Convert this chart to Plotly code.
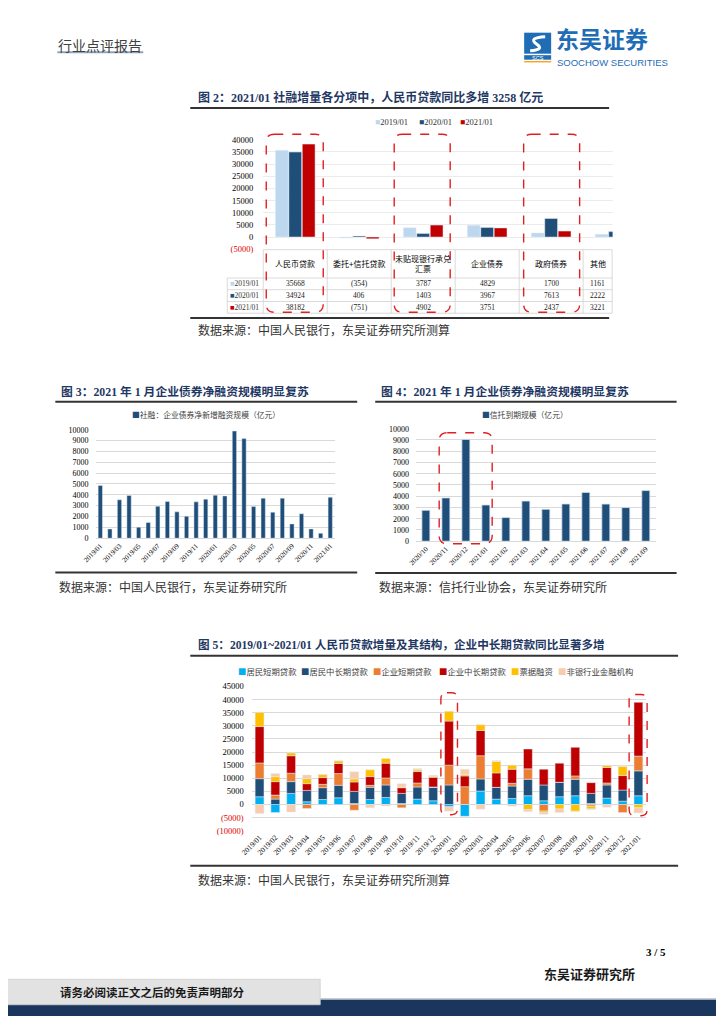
import plotly.graph_objects as go

# Figure size (window minus the browser's default 8px body margin) and an
# empirical page-pixel calibration measured from the previous render.
PAGE_W, PAGE_H = 724, 1024
MARGIN = 8
W, H = PAGE_W - 2 * MARGIN, PAGE_H - 2 * MARGIN
CAL_AX, CAL_BX = 12.8, 0.982
CAL_AY, CAL_BY = 5.4, 0.990
SERIF = "Liberation Serif, Noto Sans CJK SC"
SANS = "Noto Sans CJK SC, Liberation Sans"
NAVY = "#1F3864"

# ---------------- Figure 2 data ----------------
f2_categories = ["人民币贷款", "委托+信托贷款", "未贴现银行承兑汇票", "企业债券", "政府债券", "其他"]
f2_header_labels = ["人民币贷款", "委托+信托贷款", "未贴现银行承兑<br>汇票", "企业债券", "政府债券", "其他"]
f2_series_names = ["2019/01", "2020/01", "2021/01"]
f2_2019 = [35668, -354, 3787, 4829, 1700, 1161]
f2_2020 = [34924, 406, 1403, 3967, 7613, 2222]
f2_2021 = [38182, -751, 4902, 3751, 2437, 3221]
f2_yticks = [-5000, 0, 5000, 10000, 15000, 20000, 25000, 30000, 35000, 40000]
f2_yticklabels = ["<span style='color:#E00000'>(5000)</span>", "0", "5000", "10000", "15000",
                  "20000", "25000", "30000", "35000", "40000"]

# ---------------- Figure 3 data ----------------
f3_months = ["2019/01", "2019/02", "2019/03", "2019/04", "2019/05", "2019/06", "2019/07", "2019/08",
             "2019/09", "2019/10", "2019/11", "2019/12", "2020/01", "2020/02", "2020/03", "2020/04",
             "2020/05", "2020/06", "2020/07", "2020/08", "2020/09", "2020/10", "2020/11", "2020/12",
             "2021/01"]
f3_ticklabels = ["2019/01", "2019/03", "2019/05", "2019/07", "2019/09", "2019/11", "2020/01",
                 "2020/03", "2020/05", "2020/07", "2020/09", "2020/11", "2021/01"]
f3_name = "社融：企业债券净新增融资规模（亿元）"
f3_values = [4850, 860, 3540, 3940, 1020, 1450, 2950, 3380, 2430, 2030, 3350, 3600, 3970,
             3900, 9880, 9180, 2920, 3690, 2400, 3690, 1320, 2250, 860, 460, 3780]

# ---------------- Figure 4 data ----------------
f4_months = ["2020/10", "2020/11", "2020/12", "2021/01", "2021/02", "2021/03", "2021/04",
             "2021/05", "2021/06", "2021/07", "2021/08", "2021/09"]
f4_name = "信托到期规模（亿元）"
f4_values = [2750, 3850, 9050, 3220, 2100, 3570, 2840, 3310, 4340, 3300, 2990, 4500]

# ---------------- Figure 5 data ----------------
f5_months = f3_months
f5_names = ["居民短期贷款", "居民中长期贷款", "企业短期贷款", "企业中长期贷款", "票据融资", "非银行业金融机构"]
f5_house_short = [2950, -3080, 4230, 1030, 1920, 2560, 380, 1920, 2690, 380, 2050, 1410, -900,
                  -4490, 5130, 2050, 2310, 3330, 1410, 2950, 3330, 380, 2440, 1280, 3330]
f5_house_long = [6900, 2050, 4490, 4350, 4490, 4750, 4620, 4620, 4750, 3850, 4620, 5130, 7440,
                 0, 4610, 4490, 4740, 6290, 6030, 5510, 6290, 3850, 5000, 4230, 9490]
f5_corp_short = [6000, 1540, 3200, -1540, 1280, 4480, -2180, 770, 2690, -1280, 1540, 130, 7560,
                 6800, 8850, 0, 1030, 3970, -2500, 0, 1280, -640, 770, -3080, 5640]
f5_corp_long = [13850, 5130, 6670, 2570, 2570, 3850, 3590, 3330, 5640, 2180, 4350, 3710, 16790,
                4100, 9620, 5510, 5380, 7560, 6020, 7310, 10890, 4100, 5890, 5520, 20510]
f5_bills = [5400, 1920, 1030, 1920, 1150, 1030, 1150, 2570, 1790, 260, 650, 390, 3720,
            510, 2170, 4360, 1540, -1920, -650, -1670, -2560, -1030, 770, 3460, -1280]
f5_nonbank = [-3460, 1150, -2820, 1410, 200, 0, 2700, -1280, -600, 1280, 510, 380, -1660,
              2050, -1800, 380, -640, -770, -600, -1410, -200, -250, -1030, 380, -1930]
f5_yticks = [-10000, -5000, 0, 5000, 10000, 15000, 20000, 25000, 30000, 35000, 40000, 45000]
f5_yticklabels = ["<span style='color:#E00000'>(10000)</span>", "<span style='color:#E00000'>(5000)</span>",
                  "0", "5000", "10000", "15000", "20000", "25000", "30000", "35000", "40000", "45000"]


def X(p):
    q = (p - CAL_AX) / CAL_BX
    return (q - MARGIN) / W


def Y(p):
    q = (p - CAL_AY) / CAL_BY
    return 1 - (q - MARGIN) / H


fig = go.Figure()

# ---- Figure 2 bars ----
f2_colors = ["#BDD7EE", "#1F4E79", "#C00000"]
f2_offsets = [-0.31, -0.1, 0.11]
for i, (name, vals) in enumerate(zip(f2_series_names, [f2_2019, f2_2020, f2_2021])):
    fig.add_trace(go.Bar(x=f2_categories, y=vals, name=name, marker_color=f2_colors[i],
                         width=0.2, offset=f2_offsets[i], offsetgroup="g%d" % i,
                         xaxis="x", yaxis="y", showlegend=False))

# ---- Figure 3 bars ----
fig.add_trace(go.Bar(x=f3_months, y=f3_values, name=f3_name, marker_color="#1F4E79",
                     width=0.45, xaxis="x2", yaxis="y2", showlegend=False))

# ---- Figure 4 bars ----
fig.add_trace(go.Bar(x=f4_months, y=f4_values, name=f4_name, marker_color="#1F4E79",
                     marker_line=dict(color="#D6E2F0", width=0.8),
                     width=0.4, xaxis="x3", yaxis="y3", showlegend=False))

# ---- Figure 5 stacked bars ----
f5_colors = ["#00B0F0", "#1F4E79", "#ED7D31", "#C00000", "#FFC000", "#F8CBAD"]
for name, vals, col in zip(f5_names, [f5_house_short, f5_house_long, f5_corp_short,
                                      f5_corp_long, f5_bills, f5_nonbank], f5_colors):
    fig.add_trace(go.Bar(x=f5_months, y=vals, name=name, marker_color=col, width=0.56,
                         offsetgroup="f5", xaxis="x4", yaxis="y4", showlegend=False))

grid = "#D9D9D9"
tickfont = dict(family=SERIF, size=8.5, color="#000000")
fig.update_layout(
    width=W, height=H, margin=dict(l=0, r=0, t=0, b=0),
    paper_bgcolor="white", plot_bgcolor="white", barmode="relative",
    font=dict(family=SERIF, color="#000000"),
    xaxis=dict(domain=[X(263), X(647)], anchor="y", type="category", range=[-0.5, 5.5],
               showticklabels=False, showgrid=False, zeroline=False, fixedrange=True),
    yaxis=dict(domain=[Y(249.5), Y(140)], anchor="x", range=[-5000, 40000],
               tickvals=f2_yticks, ticktext=f2_yticklabels, tickfont=tickfont,
               ticklabelstandoff=9, gridcolor="#EBEBEB", gridwidth=0.7,
               zeroline=False, showline=False),
    xaxis2=dict(domain=[X(95.2), X(334.8)], anchor="y2", type="category", range=[-0.5, 24.5],
                tickvals=f3_ticklabels, ticktext=f3_ticklabels, tickangle=-45,
                tickfont=dict(family=SERIF, size=7, color="#000"), showgrid=False,
                showline=True, linecolor=grid, linewidth=0.8, ticks=""),
    yaxis2=dict(domain=[Y(538.5), Y(430)], anchor="x2", range=[0, 10000], dtick=1000,
                tickformat="d",
                tickfont=dict(family=SERIF, size=8, color="#000"), ticklabelstandoff=6,
                gridcolor=grid, gridwidth=0.7, zeroline=False, showline=False),
    xaxis3=dict(domain=[X(415.7), X(655.7)], anchor="y3", type="category", range=[-0.5, 11.5],
                tickangle=-45, tickfont=dict(family=SERIF, size=7, color="#000"), showgrid=False,
                showline=True, linecolor=grid, linewidth=0.8, ticks=""),
    yaxis3=dict(domain=[Y(541.5), Y(429)], anchor="x3", range=[0, 10000], dtick=1000,
                tickformat="d",
                tickfont=dict(family=SERIF, size=8, color="#000"), ticklabelstandoff=6,
                gridcolor=grid, gridwidth=0.7, zeroline=False, showline=False),
    xaxis4=dict(domain=[X(251.4), X(646.2)], anchor="y4", type="category", range=[-0.5, 24.5],
                tickangle=-45, tickfont=dict(family=SERIF, size=7.5, color="#000"), showgrid=False,
                showline=False, ticks=""),
    yaxis4=dict(domain=[Y(831), Y(686.7)], anchor="x4", range=[-10000, 45000],
                tickvals=f5_yticks, ticktext=f5_yticklabels,
                tickfont=dict(family=SERIF, size=8.5, color="#000"), ticklabelstandoff=7,
                gridcolor=grid, gridwidth=0.7, zeroline=False, showline=False),
)

shapes = []
annos = []


def line(x0, y0, x1, y1, color="#333333", width=1.0, dash=None):
    d = dict(type="line", xref="paper", yref="paper", x0=X(x0), y0=Y(y0), x1=X(x1), y1=Y(y1),
             line=dict(color=color, width=width), layer="above")
    if dash:
        d["line"]["dash"] = dash
    shapes.append(d)


def rect(x0, y0, x1, y1, fill, lcolor=None, lwidth=0):
    shapes.append(dict(type="rect", xref="paper", yref="paper", x0=X(x0), y0=Y(y1), x1=X(x1), y1=Y(y0),
                       fillcolor=fill, line=dict(color=lcolor or fill, width=lwidth), layer="above"))


def rrect(x0, y0, x1, y1, r=8, color="#E02020"):
    def P(x, y):
        return "%.5f,%.5f" % (X(x), Y(y))
    path = ("M %s L %s Q %s %s L %s Q %s %s L %s Q %s %s L %s Q %s %s Z" % (
        P(x0 + r, y0), P(x1 - r, y0), P(x1, y0), P(x1, y0 + r), P(x1, y1 - r),
        P(x1, y1), P(x1 - r, y1), P(x0 + r, y1), P(x0, y1), P(x0, y1 - r),
        P(x0, y0 + r), P(x0, y0), P(x0 + r, y0)))
    shapes.append(dict(type="path", xref="paper", yref="paper", path=path,
                       line=dict(color=color, width=1.4, dash="dash"), layer="above"))


def text(x, y, s, size=10, family=SANS, color="#000000", xanchor="left", yanchor="middle"):
    annos.append(dict(x=X(x), y=Y(y), xref="paper", yref="paper", text=s, showarrow=False,
                      xanchor=xanchor, yanchor=yanchor, align="center", borderpad=0,
                      font=dict(family=family, size=size, color=color)))


def sq(color):
    return "<span style='color:%s'>■</span>" % color


# ---------------- Header ----------------
text(57, 45, "行业点评报告", size=14, color="#404040")
line(57, 52.5, 143, 52.5, color="#8EA3BF", width=2)
# logo
rect(524, 33, 551, 54, "#1F6DB5")
shapes.append(dict(type="path", xref="paper", yref="paper",
                   path="M %.5f,%.5f Q %.5f,%.5f %.5f,%.5f Q %.5f,%.5f %.5f,%.5f" % (
                       X(545), Y(37), X(528), Y(38), X(536), Y(44), X(545), Y(50), X(530), Y(51)),
                   line=dict(color="white", width=3), layer="above"))
rect(524, 55.5, 551, 60, "#1F6DB5")
text(537.5, 58, "SCS", size=5.5, family="Liberation Sans", color="white", xanchor="center")
line(524, 62, 551, 62, color="#F5A623", width=1.5)
text(555, 56, "<b>东吴证券</b>", size=23, color="#1F6DB5", yanchor="bottom")
text(556, 56.5, "SOOCHOW SECURITIES", size=9.5, family="Liberation Sans Narrow, Liberation Sans",
     color="#1F6DB5", yanchor="top")

# ---------------- Figure 2 ----------------
text(197, 97.5, "<b>图 2：2021/01 社融增量各分项中，人民币贷款同比多增 3258 亿元</b>", size=12,
     family=SERIF, color=NAVY)
line(190, 108.3, 609, 108.3, color="#333333", width=2)
# mask for the clipped right-hand part of the chart
rect(612.5, 118, 680, 249, "white")
# legend
for xx, nm, col in zip([374, 418, 459], f2_series_names, f2_colors):
    text(xx, 122.5, sq(col) + nm, size=8.5, family=SERIF, color="#333333")
# table
col_left = [263 + 64 * i for i in range(6)]
col_right = [min(c + 64, 612) for c in col_left]
row_lines = [278.3, 290, 301.8, 313.5]
tc = "#D0D0D0"
line(263, 250, 612, 250, color=tc, width=0.8)
for yy in row_lines:
    line(227, yy, 612, yy, color=tc, width=0.8)
line(227, 278.3, 227, 313.5, color=tc, width=0.8)
for c in col_left:
    line(c, 250, c, 313.5, color=tc, width=0.8)
line(612, 250, 612, 313.5, color=tc, width=0.8)
for lab, c0, c1 in zip(f2_header_labels, col_left, col_right):
    text((c0 + c1) / 2, 264, lab, size=8, family=SANS, color="#000", xanchor="center")


def fmt(v):
    return "(%d)" % (-v) if v < 0 else "%d" % v


row_y = [284.2, 296, 307.7]
for ry, nm, col, vals in zip(row_y, f2_series_names, f2_colors, [f2_2019, f2_2020, f2_2021]):
    text(229, ry, sq(col) + nm, size=7.5, family=SERIF, color="#333")
    for v, c0, c1 in zip(vals, col_left, col_right):
        text((c0 + c1) / 2, ry, fmt(v), size=7.5, family=SERIF, color="#222", xanchor="center")
# highlight boxes
rrect(266, 134.5, 323, 312.5)
rrect(394, 134.5, 450, 312.5)
rrect(523.5, 134.5, 579.5, 312.5)
line(190, 318.3, 609, 318.3, color="#333333", width=2)
text(197, 330, "数据来源：中国人民银行，东吴证券研究所测算", size=12, color="#333")

# ---------------- Figure 3 ----------------
text(60, 392.5, "<b>图 3：2021 年 1 月企业债券净融资规模明显复苏</b>", size=11.8, family=SERIF, color=NAVY)
line(55, 402, 357, 402, color="#333333", width=2)
text(131, 414.5, sq("#1F4E79") + f3_name, size=7.8, color="#404040")
line(55, 572.7, 357, 572.7, color="#333333", width=2)
text(58, 587, "数据来源：中国人民银行，东吴证券研究所", size=12, color="#333")

# ---------------- Figure 4 ----------------
text(380, 392.5, "<b>图 4：2021 年 1 月企业债券净融资规模明显复苏</b>", size=11.8, family=SERIF, color=NAVY)
line(375, 402, 676.5, 402, color="#333333", width=2)
text(481, 414.5, sq("#1F4E79") + f4_name, size=7.8, color="#404040")
rrect(439, 433, 492, 544, r=8)
line(375, 573.3, 676.5, 573.3, color="#333333", width=2)
text(378, 587, "数据来源：信托行业协会，东吴证券研究所", size=12, color="#333")

# ---------------- Figure 5 ----------------
text(197, 645, "<b>图 5：2019/01~2021/01 人民币贷款增量及其结构，企业中长期贷款同比显著多增</b>",
     size=11.6, family=SERIF, color=NAVY)
line(190, 656, 678, 656, color="#333333", width=2)
for xx, nm, col in zip([237, 300, 372, 438, 510, 557], f5_names, f5_colors):
    text(xx, 671, sq(col) + nm, size=8.4, color="#404040")
rrect(440.7, 693, 457.3, 815, r=6)
rrect(629, 694.7, 647, 816, r=6)
line(190, 866, 678, 866, color="#333333", width=2)
text(197, 879.5, "数据来源：中国人民银行，东吴证券研究所测算", size=12, color="#333")

# ---------------- Footer ----------------
text(667, 952, "<b>3 / 5</b>", size=11, family=SERIF, color="#000", xanchor="right")
text(636, 974, "<b>东吴证券研究所</b>", size=13, color="#1a1a1a", xanchor="right")
rect(0, 999, 724, 1024, "#1B365D")
line(320, 999.5, 724, 999.5, color="#C8CED8", width=1)
rect(0, 979.5, 320, 1005, "#E2E2E2", lcolor="#CFCFCF", lwidth=0.8)
text(152, 992, "<b>请务必阅读正文之后的免责声明部分</b>", size=11.5, color="#1a1a1a", xanchor="center")

fig.update_layout(shapes=shapes, annotations=annos)

fig.write_html("out.html", config={"displayModeBar": False})
